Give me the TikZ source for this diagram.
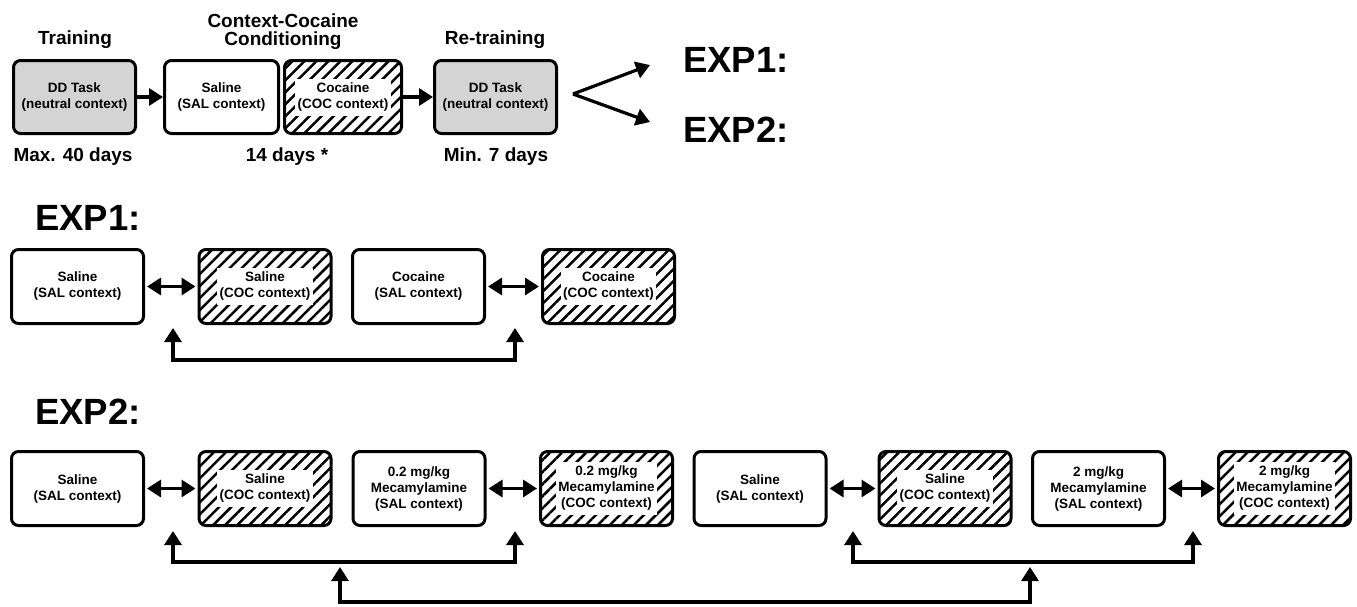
\documentclass[tikz,border=0pt]{standalone}
\usepackage{fontspec}
\setmainfont{Liberation Sans}
\usetikzlibrary{arrows.meta,patterns.meta}
\newcommand{\wb}[1]{{\setlength{\fboxsep}{2.5pt}\colorbox{white}{\begin{tabular}{@{}c@{}}#1\end{tabular}}}}
\tikzset{
  box/.style={draw, line width=3pt, rounded corners=7pt, minimum width=132pt,
    minimum height=74pt, inner sep=0pt, align=center,
    font=\fontsize{13.5}{16}\selectfont\bfseries},
  ddbox/.style={box, fill=black!17},
  hatchbox/.style={box, pattern={Lines[angle=45,distance=8.5pt,line width=2.5pt]}},
  arr/.style={line width=3.2pt, -{Triangle[length=14pt,width=17pt]}},
  darr/.style={line width=3.2pt, {Triangle[length=14pt,width=17pt]}-{Triangle[length=14pt,width=17pt]}},
  head/.style={inner sep=0pt, font=\fontsize{19}{18}\selectfont\bfseries},
  big/.style={inner sep=0pt, anchor=west, font=\fontsize{36.5}{36}\selectfont\bfseries},
}
\begin{document}
\begin{tikzpicture}[x=1pt,y=-1pt]
  \useasboundingbox (0,0) rectangle (1357,606);
  % top row
  \node[head] (l1) at (75,40) {Training};
  \node[head, align=center] (l2) at (283,32) {Context-Cocaine\\Conditioning};
  \node[head] (l3) at (495,40) {Re-training};
  \node[ddbox, minimum width=122pt, minimum height=73pt] (t1) at (74.5,97) {DD Task\\(neutral context)};
  \node[box, minimum width=114pt, minimum height=73pt] (t2) at (221.5,97) {Saline\\(SAL context)};
  \node[hatchbox, minimum width=117pt, minimum height=73pt] (t3) at (343,97) {\wb{Cocaine\\(COC context)}};
  \node[ddbox, minimum width=122pt, minimum height=73pt] (t4) at (495.5,97) {DD Task\\(neutral context)};
  \node[head] (d1) at (73,157) {Max. 40 days};
  \node[head] (d2) at (287,157) {14 days *};
  \node[head] (d3) at (496,157) {Min. 7 days};
  \draw[arr] (t1) -- (t2);
  \draw[arr] (t3) -- (t4);
  \node[big] (x1) at (683,60) {EXP1:};
  \node[big] (x2) at (683,130) {EXP2:};
  \coordinate (fk) at ([xshift=15pt,yshift=3pt]t4.east);
  \draw[arr] (fk) -- ([xshift=-33pt,yshift=-5pt]x1.west);
  \draw[arr] (fk) -- ([xshift=-33pt,yshift=8pt]x2.west);
  % EXP1
  \node[big] (r1) at (35,218) {EXP1:};
  \node[box] (e11) at (77.5,286.5) {Saline\\(SAL context)};
  \node[hatchbox] (e12) at (265,286.5) {\wb{Saline\\(COC context)}};
  \node[box] (e13) at (418.5,286.5) {Cocaine\\(SAL context)};
  \node[hatchbox] (e14) at (608.5,286.5) {\wb{Cocaine\\(COC context)}};
  \draw[darr, shorten <=2pt, shorten >=2pt] (e11) -- (e12);
  \draw[darr, shorten <=2pt, shorten >=2pt] (e13) -- (e14);
  \coordinate (u11) at (173,328);
  \coordinate (u12) at (515,328);
  \draw[darr] (u11) -- ++(0,32) -| (u12);
  % EXP2
  \node[big] (r2) at (35,412) {EXP2:};
  \node[box] (e21) at (77.5,488.5) {Saline\\(SAL context)};
  \node[hatchbox] (e22) at (265,488.5) {\wb{Saline\\(COC context)}};
  \node[box] (e23) at (419,488.5) {0.2 mg/kg\\Mecamylamine\\(SAL context)};
  \node[hatchbox] (e24) at (606.5,488.5) {\wb{0.2 mg/kg\\Mecamylamine\\(COC context)}};
  \node[box] (e25) at (760,488.5) {Saline\\(SAL context)};
  \node[hatchbox] (e26) at (945,488.5) {\wb{Saline\\(COC context)}};
  \node[box] (e27) at (1098.5,488.5) {2 mg/kg\\Mecamylamine\\(SAL context)};
  \node[hatchbox] (e28) at (1284.5,488.5) {\wb{2 mg/kg\\Mecamylamine\\(COC context)}};
  \draw[darr, shorten <=2pt, shorten >=2pt] (e21) -- (e22);
  \draw[darr, shorten <=2pt, shorten >=2pt] (e23) -- (e24);
  \draw[darr, shorten <=2pt, shorten >=2pt] (e25) -- (e26);
  \draw[darr, shorten <=2pt, shorten >=2pt] (e27) -- (e28);
  \coordinate (u21) at (173,531);
  \coordinate (u22) at (515,531);
  \coordinate (u23) at (853,531);
  \coordinate (u24) at (1193,531);
  \draw[darr] (u21) -- ++(0,31) -| (u22);
  \draw[darr] (u23) -- ++(0,31) -| (u24);
  \coordinate (v1) at (340,567);
  \coordinate (v2) at (1030,567);
  \draw[darr] (v1) -- ++(0,35) -| (v2);
\end{tikzpicture}
\end{document}
